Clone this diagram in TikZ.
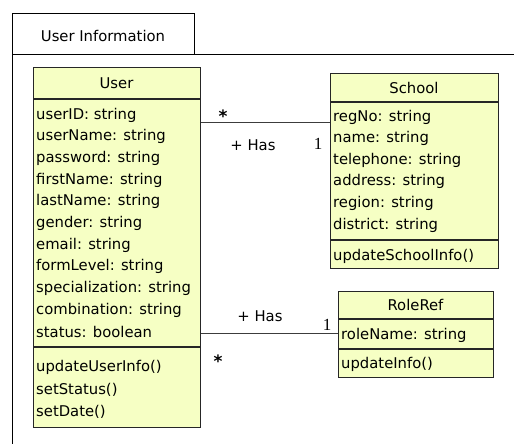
\documentclass[tikz,border=0pt]{standalone}
\usepackage{fontspec}
\setmainfont{DejaVu Sans}
\newfontfamily\numfont{Liberation Serif}
\definecolor{classfill}{RGB}{246,255,196}
\definecolor{edgegray}{RGB}{60,60,60}
\tikzset{
  classbox/.style={draw=black!85, fill=classfill, line width=1pt, inner sep=0pt, anchor=north west},
  sepline/.style={line width=2pt, black!85},
  attr/.style={anchor=west, inner sep=0pt, font=\fontsize{14.8}{17}\selectfont},
  title/.style={inner sep=0pt, font=\fontsize{14.8}{17}\selectfont},
  assoc/.style={draw=edgegray, line width=1pt},
  mult/.style={inner sep=0pt, font=\fontsize{14.8}{17}\selectfont},
  star/.style={inner sep=0pt, font=\bfseries\fontsize{17}{17}\selectfont},
  one/.style={inner sep=0pt, font=\numfont\fontsize{17}{17}\selectfont}
}
\begin{document}
\begin{tikzpicture}[x=1pt, y=-1pt]
    \useasboundingbox (0,0) rectangle (514,444);

    % package frame
    \draw[line width=1pt] (12,14) rectangle (194,55);
    \node[title] (pkg) at (103,36) {User Information};
    \draw[line width=1pt] (12,444) -- (12,55) -- (514,55);

    % User
    \node[classbox, minimum width=167, minimum height=360] (user) at (33,67) {};
    \draw[sepline] ([yshift=-32]user.north west) -- ([yshift=-32]user.north east);
    \draw[sepline] ([yshift=-280]user.north west) -- ([yshift=-280]user.north east);
    \node[title] (usertitle) at (116.5,83) {User};
    \foreach \txt [count=\i from 0] in {userID: string, userName: string, password: string,
        firstName: string, lastName: string, gender: string, email: string,
        formLevel: string, specialization: string, combination: string, status: boolean}
      \node[attr] at (36,115+21.7*\i) {\txt};
    \foreach \txt [count=\i from 0] in {updateUserInfo(), setStatus(), setDate()}
      \node[attr] at (36,367+22.5*\i) {\txt};

    % School
    \node[classbox, minimum width=168, minimum height=195] (school) at (330,73) {};
    \draw[sepline] ([yshift=-29]school.north west) -- ([yshift=-29]school.north east);
    \draw[sepline] ([yshift=-167]school.north west) -- ([yshift=-167]school.north east);
    \node[title] (schooltitle) at (414,88) {School};
    \foreach \txt [count=\i from 0] in {regNo: string, name: string, telephone: string,
        address: string, region: string, district: string}
      \node[attr] at (333,117+21.6*\i) {\txt};
    \node[attr] at (333,256) {updateSchoolInfo()};

    % RoleRef
    \node[classbox, minimum width=155, minimum height=86] (roleref) at (338,291) {};
    \draw[sepline] ([yshift=-28]roleref.north west) -- ([yshift=-28]roleref.north east);
    \draw[sepline] ([yshift=-58]roleref.north west) -- ([yshift=-58]roleref.north east);
    \node[title] (reftitle) at (415.5,305) {RoleRef};
    \node[attr] at (341,335) {roleName: string};
    \node[attr] at (341,364) {updateInfo()};

    % associations
    \coordinate (hasschool) at (0,122);
    \coordinate (hasrole) at (0,333);
    \draw[assoc] (user.east |- hasschool) -- (school.west |- hasschool);
    \draw[assoc] (user.east |- hasrole) -- (roleref.west |- hasrole);

    \node[star] (s1) at (223,116) {*};
    \node[mult] (h1) at (253,145) {+ Has};
    \node[one] (n1) at (318,144) {1};

    \node[mult] (h2) at (260,316) {+ Has};
    \node[one] (n2) at (327,325) {1};
    \node[star] (s2) at (218,361) {*};
\end{tikzpicture}
\end{document}
